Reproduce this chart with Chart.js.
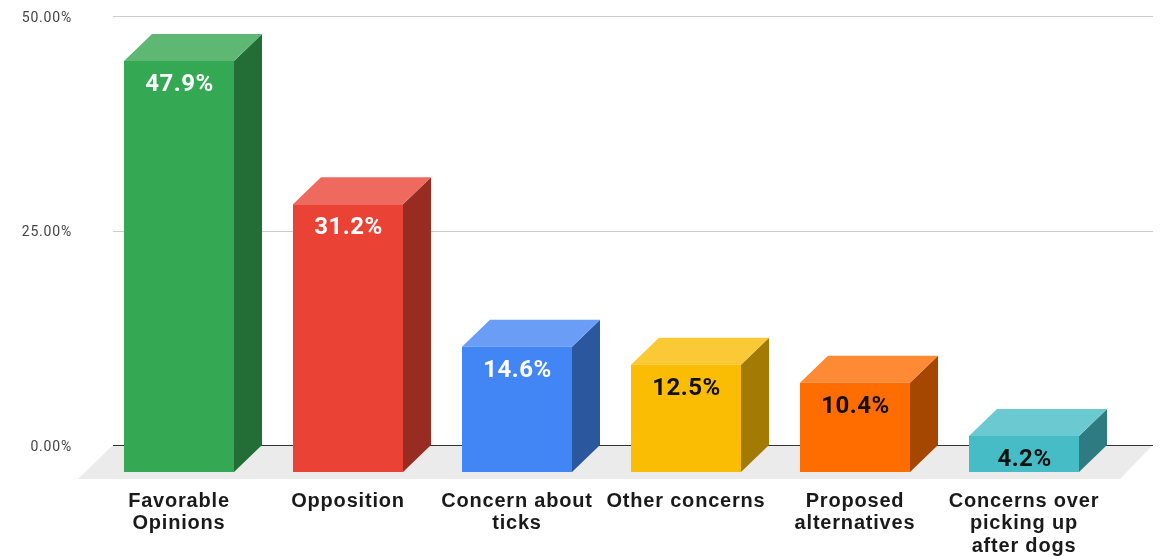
<!DOCTYPE html>
<html>
<head>
<meta charset="utf-8">
<script src="https://cdn.jsdelivr.net/npm/chart.js@4.4.0/dist/chart.umd.min.js"></script>
<style>
html,body{margin:0;padding:0;background:#fff;}
#wrap{width:1161px;height:556px;position:relative;}
</style>
</head>
<body>
<div id="wrap"><canvas id="c" width="1161" height="556"></canvas></div>
<script>
// ---- data ----
const categories = [
  ["Favorable", "Opinions"],
  ["Opposition"],
  ["Concern about", "ticks"],
  ["Other concerns"],
  ["Proposed", "alternatives"],
  ["Concerns over", "picking up", "after dogs"]
];
const values = [47.9, 31.2, 14.6, 12.5, 10.4, 4.2];
const valueLabels = ["47.9%", "31.2%", "14.6%", "12.5%", "10.4%", "4.2%"];
const yTickValues = [0, 25, 50];

// ---- styles ----
const frontColors = ["#34a853", "#ea4335", "#4285f4", "#fbbc04", "#ff6d01", "#46bdc6"];
const topColors   = ["#5eb874", "#ee695e", "#6a9ef6", "#fbc935", "#ff8a35", "#6bcad1"];
const sideColors  = ["#236e37", "#982c23", "#2b579e", "#a37a03", "#a64700", "#2e7b81"];
const labelColors = ["#ffffff", "#ffffff", "#ffffff", "#111111", "#111111", "#111111"];

const DX = 28, DY = 27;          // 3D depth offset (right, up)
const FLOOR_DX = 35, FLOOR_DY = 34;

const threeD = {
  id: 'threeD',
  beforeDraw(chart) {
    chart.ctx.letterSpacing = '0.8px';
  },
  beforeDatasetsDraw(chart) {
    const ctx = chart.ctx;
    const ys = chart.scales.y;
    const area = chart.chartArea;
    const backLeft = area.left + 18.5;
    const backRight = area.right + 44.5;
    const y0 = ys.getPixelForValue(0) - DY;
    ctx.save();
    // floor
    ctx.fillStyle = '#ebebeb';
    ctx.beginPath();
    ctx.moveTo(backLeft, y0);
    ctx.lineTo(backRight, y0);
    ctx.lineTo(backRight - FLOOR_DX + 2, y0 + FLOOR_DY);
    ctx.lineTo(backLeft - FLOOR_DX, y0 + FLOOR_DY);
    ctx.closePath();
    ctx.fill();
    // gridlines on back wall
    yTickValues.forEach(v => {
      const y = Math.round(ys.getPixelForValue(v) - DY) + 0.5;
      ctx.strokeStyle = v === 0 ? '#333333' : '#cccccc';
      ctx.lineWidth = 1;
      ctx.beginPath();
      ctx.moveTo(backLeft, y);
      ctx.lineTo(backRight, y);
      ctx.stroke();
    });
    // top and side faces
    const meta = chart.getDatasetMeta(0);
    meta.data.forEach((bar, i) => {
      const p = bar.getProps(['x', 'y', 'base', 'width'], true);
      const xl = p.x - p.width / 2, xr = p.x + p.width / 2;
      const yt = p.y, yb = p.base;
      ctx.fillStyle = sideColors[i];
      ctx.beginPath();
      ctx.moveTo(xr, yt);
      ctx.lineTo(xr + DX, yt - DY);
      ctx.lineTo(xr + DX, yb - DY);
      ctx.lineTo(xr, yb);
      ctx.closePath();
      ctx.fill();
      ctx.fillStyle = topColors[i];
      ctx.beginPath();
      ctx.moveTo(xl, yt);
      ctx.lineTo(xl + DX, yt - DY);
      ctx.lineTo(xr + DX, yt - DY);
      ctx.lineTo(xr, yt);
      ctx.closePath();
      ctx.fill();
    });
    ctx.restore();
  },
  afterDatasetsDraw(chart) {
    const ctx = chart.ctx;
    const meta = chart.getDatasetMeta(0);
    ctx.save();
    ctx.letterSpacing = '0.5px';
    ctx.font = 'bold 24px Roboto';
    ctx.textAlign = 'center';
    ctx.textBaseline = 'middle';
    meta.data.forEach((bar, i) => {
      const p = bar.getProps(['x', 'y'], true);
      ctx.fillStyle = labelColors[i];
      ctx.fillText(valueLabels[i], p.x + 0.5, p.y + 24);
    });
    ctx.restore();
  }
};

new Chart(document.getElementById('c'), {
  type: 'bar',
  data: {
    labels: categories,
    datasets: [{
      data: values,
      backgroundColor: frontColors,
      borderWidth: 0,
      barPercentage: 0.651,
      categoryPercentage: 1.0
    }]
  },
  options: {
    responsive: false,
    animation: false,
    devicePixelRatio: 1,
    layout: { padding: { left: 0, right: 52.5, top: 43, bottom: 0 } },
    plugins: { legend: { display: false }, tooltip: { enabled: false } },
    scales: {
      x: {
        grid: { display: false, drawTicks: false },
        border: { display: false },
        ticks: {
          color: '#1a1a1a',
          font: { family: '"Liberation Sans", Arial, sans-serif', size: 20, weight: 'bold', lineHeight: 1.12 },
          padding: 18,
          maxRotation: 0,
          autoSkip: false
        },
        afterFit(scale) { scale.height = 84; }
      },
      y: {
        min: 0,
        max: 50,
        grid: { display: false, drawTicks: false },
        border: { display: false },
        ticks: {
          stepSize: 25,
          color: '#444444',
          font: { family: 'Roboto, Arial, sans-serif', size: 14 },
          padding: 22.5,
          labelOffset: -DY + 2,
          callback: v => v.toFixed(2) + '%'
        },
        afterFit(scale) { scale.width = 94.5; }
      }
    }
  },
  plugins: [threeD]
});
</script>
</body>
</html>
